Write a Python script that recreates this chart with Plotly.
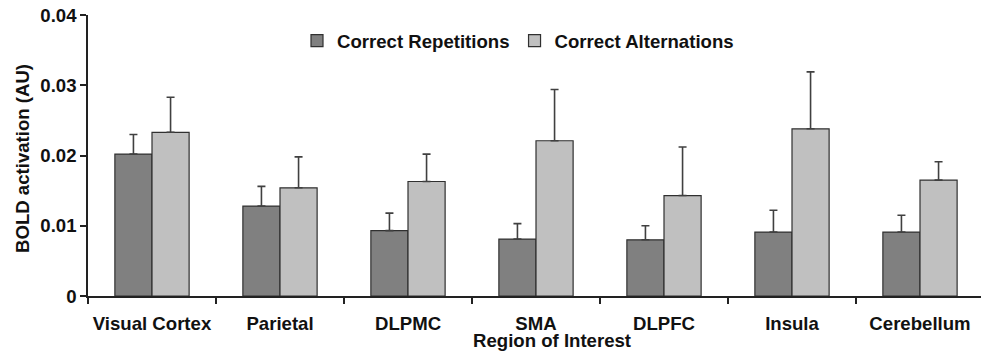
import plotly.graph_objects as go

regions = ["Visual Cortex", "Parietal", "DLPMC", "SMA", "DLPFC", "Insula", "Cerebellum"]
repetitions = [0.0202, 0.0128, 0.0093, 0.0081, 0.0080, 0.0091, 0.0091]
repetitions_err = [0.0028, 0.0028, 0.0025, 0.0022, 0.0020, 0.0031, 0.0024]
alternations = [0.0233, 0.0154, 0.0163, 0.0221, 0.0143, 0.0238, 0.0165]
alternations_err = [0.0050, 0.0044, 0.0039, 0.0073, 0.0069, 0.0081, 0.0026]
y_ticks = [0, 0.01, 0.02, 0.03, 0.04]
y_tick_labels = ["0", "0.01", "0.02", "0.03", "0.04"]

FONT = "Arial, 'Liberation Sans', sans-serif"
TXT = "#111111"
FS = 18.6

W, H = 981, 355
ML, MR, MT, MB = 88, 0, 15, 59
pw = W - ML - MR
ph = H - MT - MB
cat_px = 128.0

fig = go.Figure()
fig.add_trace(go.Bar(
    name="Correct Repetitions", x=regions, y=repetitions,
    marker=dict(color="#808080", line=dict(color="#303030", width=1.2)),
    error_y=dict(type="data", array=repetitions_err, arrayminus=[0] * len(regions),
                 symmetric=False, color="#404040", thickness=1.6, width=4),
))
fig.add_trace(go.Bar(
    name="Correct Alternations", x=regions, y=alternations,
    marker=dict(color="#c0c0c0", line=dict(color="#303030", width=1.2)),
    error_y=dict(type="data", array=alternations_err, arrayminus=[0] * len(regions),
                 symmetric=False, color="#404040", thickness=1.6, width=4),
))

fig.update_layout(
    width=W, height=H,
    margin=dict(l=ML, r=MR, t=MT, b=MB, pad=0),
    paper_bgcolor="white", plot_bgcolor="white",
    barmode="group", bargap=0.42, bargroupgap=0,
    font=dict(family=FONT, size=FS, color=TXT, weight="bold"),
    showlegend=True,
    legend=dict(orientation="h", x=(297 - ML) / pw, xanchor="left",
                y=(MT + ph - 41) / ph, yanchor="middle",
                font=dict(family=FONT, size=FS, color=TXT, weight="bold"),
                bgcolor="rgba(0,0,0,0)", itemwidth=30),
    xaxis=dict(
        type="category", range=[-0.5, -0.5 + pw / cat_px],
        showline=True, linecolor="#222222", linewidth=1.5,
        ticks="outside", tickson="boundaries", ticklen=6, tickcolor="#222222", tickwidth=1.5,
        tickfont=dict(family=FONT, size=FS, color=TXT, weight="bold"),
        tickangle=0, ticklabelstandoff=10, automargin=False,
        showgrid=False, zeroline=False, fixedrange=True,
    ),
    yaxis=dict(
        range=[0, 0.04], tickvals=y_ticks, ticktext=y_tick_labels,
        showline=True, linecolor="#222222", linewidth=1.5,
        ticks="outside", ticklen=6, tickcolor="#222222", tickwidth=1.5,
        tickfont=dict(family=FONT, size=FS, color=TXT, weight="bold"),
        automargin=False,
        showgrid=False, zeroline=False, fixedrange=True,
    ),
    annotations=[
        dict(text="BOLD activation (AU)", textangle=-90, xref="paper", yref="paper",
             x=(22 - ML) / pw, y=(MT + ph - 159) / ph, xanchor="center", yanchor="middle",
             showarrow=False, font=dict(family=FONT, size=FS, color=TXT, weight="bold")),
        dict(text="Region of Interest", xref="paper", yref="paper",
             x=(552 - ML) / pw, y=(MT + ph - 340) / ph, xanchor="center", yanchor="middle",
             showarrow=False, font=dict(family=FONT, size=FS, color=TXT, weight="bold")),
    ],
)

fig.write_html("out.html", config={"displayModeBar": False},
               post_script="document.body.style.margin='0';document.body.style.overflow='hidden';")
